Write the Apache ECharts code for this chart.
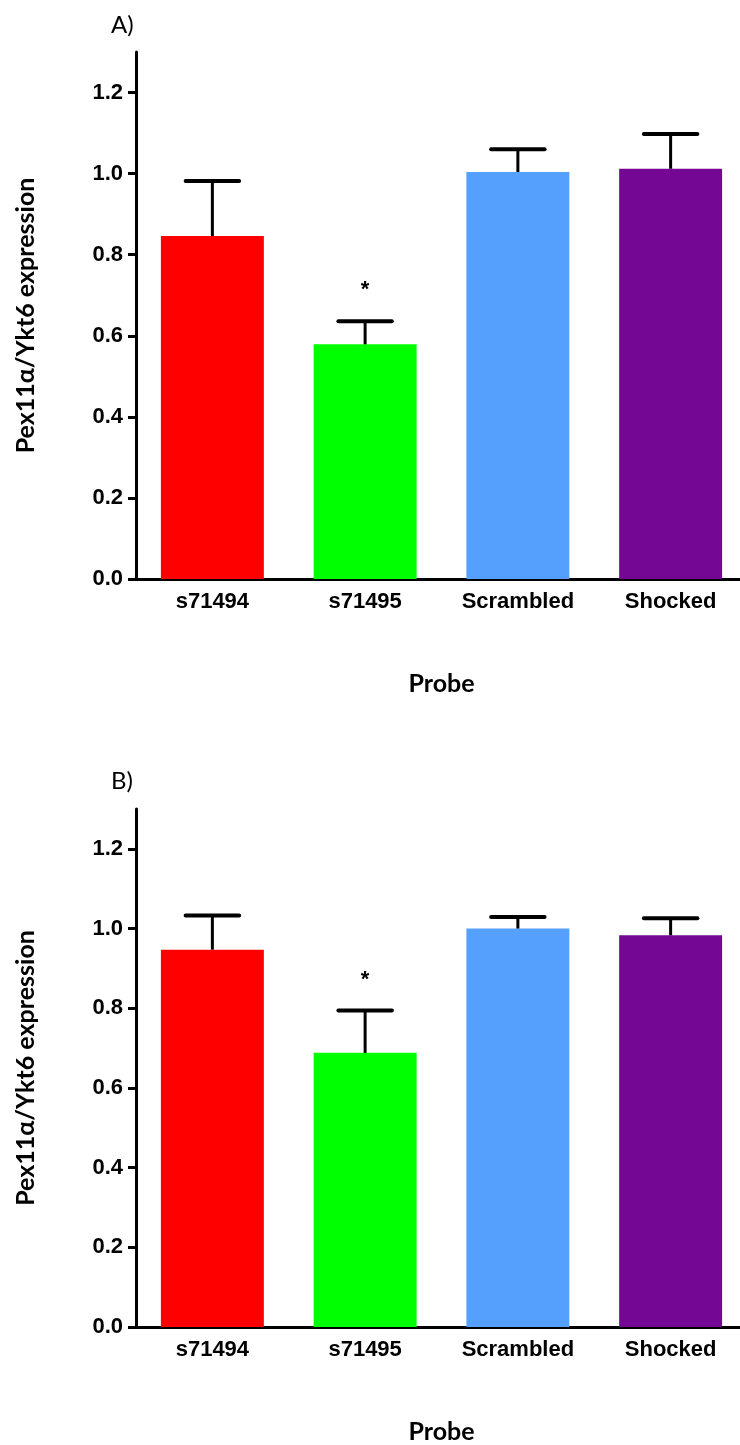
<!DOCTYPE html>
<html>
<head>
<meta charset="utf-8">
<script src="https://cdn.jsdelivr.net/npm/echarts@6/dist/echarts.min.js"></script>
<style>
html,body{margin:0;padding:0;background:#fff;overflow:hidden;}
#chart{width:750px;height:1445px;}
</style>
</head>
<body>
<div id="chart"></div>
<script>
const categories = ['s71494', 's71495', 'Scrambled', 'Shocked'];
const barColors = ['#FF0000', '#00FF00', '#55A0FD', '#750795'];
const meanA = [0.846, 0.579, 1.004, 1.012];
const errA = [0.136, 0.057, 0.056, 0.086];
const meanB = [0.947, 0.688, 1.000, 0.983];
const errB = [0.086, 0.106, 0.029, 0.043];
const sigA = ['', '*', '', ''];
const sigB = ['', '*', '', ''];
const yTicks = [0, 0.2, 0.4, 0.6, 0.8, 1.0, 1.2];
const panelLabels = ['A)', 'B)'];
const yTitle = 'Pex11α/Ykt6 expression';
const xTitle = 'Probe';

const labelFont = '"Liberation Sans", Arial, sans-serif';
const titleFont = 'Lato, "Open Sans", sans-serif';

function makeX(gi) {
  return {
    type: 'category', gridIndex: gi, data: categories,
    axisLine: {lineStyle: {color: '#000', width: 3}},
    axisTick: {alignWithLabel: true, length: 9, lineStyle: {color: '#000', width: 3}},
    axisLabel: {color: '#000', fontWeight: 'bold', fontSize: 22, fontFamily: labelFont, margin: 12},
    name: xTitle, nameLocation: 'middle', nameGap: 92,
    nameTextStyle: {color: '#000', fontWeight: 'bold', fontSize: 25, fontFamily: titleFont}
  };
}
function makeY(gi) {
  return {
    type: 'value', gridIndex: gi, min: 0, max: 1.3,
    splitLine: {show: false},
    axisLine: {show: true, lineStyle: {color: '#000', width: 3}},
    axisTick: {show: true, length: 8, customValues: yTicks, lineStyle: {color: '#000', width: 3}},
    axisLabel: {customValues: yTicks, color: '#000', fontWeight: 'bold', fontSize: 22, fontFamily: labelFont, margin: 13,
      formatter: v => v.toFixed(1)},
    name: yTitle, nameLocation: 'middle', nameRotate: 90, nameGap: 98,
    nameTextStyle: {color: '#000', fontWeight: 'bold', fontSize: 25, fontFamily: titleFont}
  };
}
function barSeries(gi, vals) {
  return {
    type: 'bar', xAxisIndex: gi, yAxisIndex: gi, barCategoryGap: '32.6%',
    data: vals.map((v, i) => ({value: v, itemStyle: {color: barColors[i]}})),
    z: 2
  };
}
function errSeries(gi, means, errs, sig) {
  return {
    type: 'custom', xAxisIndex: gi, yAxisIndex: gi, z: 3,
    data: means.map((m, i) => [i, m, m + errs[i], sig[i]]),
    renderItem: function (params, api) {
      const x = api.value(0);
      const base = api.coord([x, api.value(1)]);
      const top = api.coord([x, api.value(2)]);
      const band = api.size([1, 0])[0];
      const half = band * 0.175;
      const children = [
        {type: 'line', shape: {x1: base[0], y1: base[1], x2: top[0], y2: top[1]},
         style: {stroke: '#000', lineWidth: 3}},
        {type: 'line', shape: {x1: top[0] - half, y1: top[1], x2: top[0] + half, y2: top[1]},
         style: {stroke: '#000', lineWidth: 4, lineCap: 'round'}}
      ];
      const s = api.value(3);
      if (s) {
        children.push({type: 'text', x: top[0], y: top[1] - 31,
          style: {text: s, fill: '#000', font: 'bold 22px ' + labelFont, textAlign: 'center', textVerticalAlign: 'middle'}});
      }
      return {type: 'group', children: children};
    }
  };
}

const chart = echarts.init(document.getElementById('chart'), null, {renderer: 'canvas'});
chart.setOption({
  animation: false,
  backgroundColor: '#fff',
  title: [
    {text: panelLabels[0], left: 106, top: 8, textStyle: {fontWeight: 'normal', fontSize: 24, color: '#000', fontFamily: titleFont}},
    {text: panelLabels[1], left: 106, top: 764, textStyle: {fontWeight: 'normal', fontSize: 24, color: '#000', fontFamily: titleFont}}
  ],
  grid: [
    {left: 136, top: 52, width: 611, height: 527},
    {left: 136, top: 809, width: 611, height: 525}
  ],
  xAxis: [makeX(0), makeX(1)],
  yAxis: [makeY(0), makeY(1)],
  series: [
    barSeries(0, meanA), errSeries(0, meanA, errA, sigA),
    barSeries(1, meanB), errSeries(1, meanB, errB, sigB)
  ]
});
</script>
</body>
</html>
